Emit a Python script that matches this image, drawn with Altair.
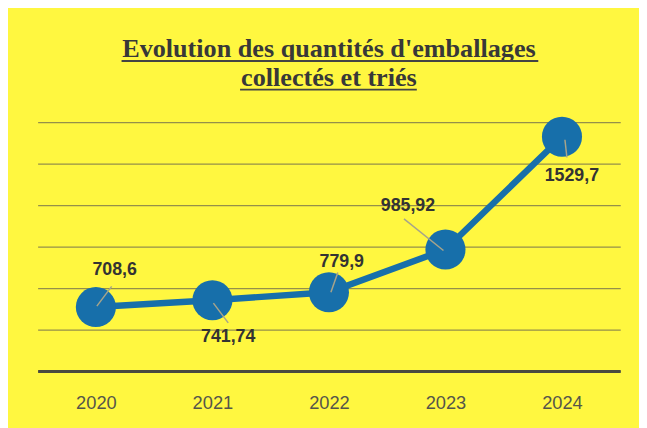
import altair as alt
import pandas as pd

# ---- data ----
years = ["2020", "2021", "2022", "2023", "2024"]
values = [708.6, 741.74, 779.9, 985.92, 1529.7]
labels = ["708,6", "741,74", "779,9", "985,92", "1529,7"]
title_lines = ["Evolution des quantités d'emballages", "collectés et triés"]
grid_values = [400, 600, 800, 1000, 1200, 1400, 1600]

df = pd.DataFrame({"year": years, "value": values, "label": labels})

# ---- styles ----
BG = "#FFF740"
BLUE = "#176FAA"
TXT = "#333333"
W, H = 590, 252

# label offsets (pixels from point centre) and leader line offsets (start dx,dy -> end dx,dy)
label_off = [(19, -37), (16, 37), (13, -31), (-38, -44), (10, 40)]
leader_off = [(1, -1, 16, -21), (1, 3, 16, 23), (2, 0, 9, -20), (-2, 1, -42, -31), (3, 3, 5, 21)]

x_enc = alt.X(
    "year:O",
    scale=alt.Scale(type="point", padding=0.5),
    axis=alt.Axis(
        title=None, ticks=False, grid=False, labelAngle=0,
        labelFont="Liberation Sans", labelFontSize=18.5, labelColor="#55554a",
        labelPadding=23, domainColor="#4a4a40", domainWidth=3,
    ),
)
y_enc = alt.Y(
    "value:Q",
    scale=alt.Scale(domain=[400, 1600], nice=False, zero=False),
    axis=alt.Axis(
        title=None, labels=False, ticks=False, domain=False,
        values=grid_values, gridColor="#958f4a", gridWidth=1.2,
    ),
)

base = alt.Chart(df).encode(x=x_enc, y=y_enc)

line = base.mark_line(color=BLUE, strokeWidth=6.5)
points = base.mark_circle(size=1650, color=BLUE, opacity=1)

layers = [line, points]
for i, yr in enumerate(years):
    a, b, c, d = leader_off[i]
    layers.append(
        base.transform_filter(alt.datum.year == yr)
        .mark_rule(color="#a7a48a", strokeWidth=1.5, xOffset=a, yOffset=b, x2Offset=c, y2Offset=d)
        .encode(x2="year:O", y2="value:Q")
    )
for i, yr in enumerate(years):
    dx, dy = label_off[i]
    layers.append(
        base.transform_filter(alt.datum.year == yr)
        .mark_text(dx=dx, dy=dy, font="Liberation Sans", fontSize=18, fontWeight="bold", color=TXT)
        .encode(text="label:N")
    )

# title (two lines) with underlines
tdf = pd.DataFrame({"t": title_lines})
title1 = alt.Chart(tdf).transform_filter(alt.datum.t == title_lines[0]).mark_text(
    font="Liberation Serif", fontSize=26.5, fontWeight="bold", color="#383838",
    align="center", baseline="alphabetic",
).encode(text="t:N", x=alt.value(W / 2), y=alt.value(-66))
title2 = alt.Chart(tdf).transform_filter(alt.datum.t == title_lines[1]).mark_text(
    font="Liberation Serif", fontSize=26.5, fontWeight="bold", color="#383838",
    align="center", baseline="alphabetic",
).encode(text="t:N", x=alt.value(W / 2), y=alt.value(-37))
ul1 = alt.Chart(tdf).transform_filter(alt.datum.t == title_lines[0]).mark_rule(
    color="#444444", strokeWidth=2
).encode(x=alt.value(85), x2=alt.value(507), y=alt.value(-62))
ul2 = alt.Chart(tdf).transform_filter(alt.datum.t == title_lines[1]).mark_rule(
    color="#444444", strokeWidth=2
).encode(x=alt.value(205), x2=alt.value(384), y=alt.value(-33))

chart = alt.layer(*layers, title1, title2, ul1, ul2).properties(
    width=W, height=H,
    autosize=alt.AutoSizeParams(type="none"),
    padding={"left": 30, "top": 113, "right": 19, "bottom": 55},
    background=BG,
).configure_view(stroke=None)

chart.save("out.html", embed_options={"renderer": "svg", "actions": False})
